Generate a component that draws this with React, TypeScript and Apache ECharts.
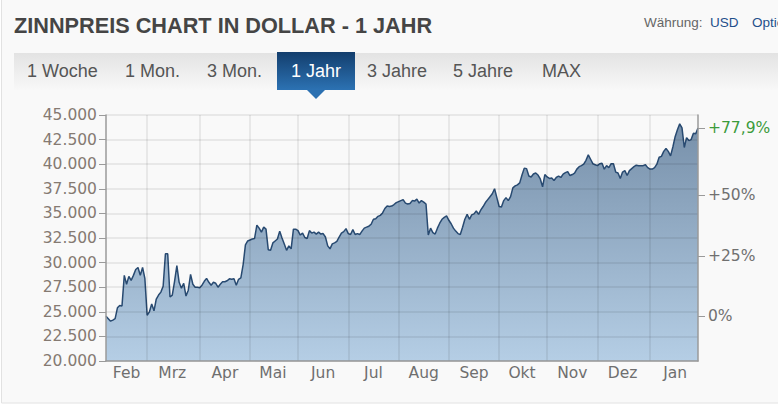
import { useEffect, useRef } from 'react'
import * as echarts from 'echarts'

// month names on the x axis, one array of daily closes (weekdays) per month
const months = ['Feb', 'Mrz', 'Apr', 'Mai', 'Jun', 'Jul', 'Aug', 'Sep', 'Okt', 'Nov', 'Dez', 'Jan']

const feb = [24550, 24300, 24050, 24150, 24300, 25400, 25650, 25600, 28700, 27800, 28600, 28200, 28700, 29300, 29500, 28700, 29500, 28400]
const mrz = [24650, 25000, 25800, 25100, 26300, 26700, 27000, 27600, 30900, 30900, 26500, 26700, 28100, 29700, 28000, 27400, 27900, 26600, 27200, 28800, 27800, 27500, 27500]
const apr = [27450, 27700, 28100, 28400, 28000, 27700, 28000, 27900, 27500, 27800, 28050, 28050, 28150, 28350, 28300, 28350, 27700, 28300, 28450, 29800, 31800, 32200]
const mai = [32300, 32400, 32450, 33800, 33500, 33100, 33600, 33400, 31300, 31250, 32000, 32200, 32400, 33200, 32500, 31900, 31250, 31700, 31400, 33400, 33400]
const jun = [33250, 32800, 33000, 32550, 32450, 33250, 33000, 33100, 32900, 33100, 32900, 32950, 32600, 31700, 31400, 31900, 32000, 32150, 32600, 33000, 33150, 33450]
const jul = [32950, 32850, 33350, 32850, 32950, 32850, 33200, 33500, 33600, 33700, 33900, 34400, 34450, 34700, 34800, 35050, 35500, 35750, 35700, 35750, 35900, 36100]
const aug = [36200, 36300, 36400, 36050, 35950, 36000, 36300, 36250, 36450, 36050, 36300, 36150, 35950, 32800, 33500, 33050, 32900, 33500, 34000, 34400, 34600, 34750]
const sep = [34300, 33950, 33500, 33200, 32950, 32850, 33600, 34400, 34900, 34400, 34850, 34950, 35250, 34900, 35350, 35700, 36100, 36400, 36700, 37000, 37500, 36600]
const okt = [35700, 35650, 36300, 36600, 36300, 36700, 37600, 37800, 37900, 38100, 38900, 39600, 39550, 38800, 38700, 39000, 39100, 38900, 38500, 37700, 38950]
const nov = [38700, 38550, 38600, 38350, 38650, 38800, 38650, 39000, 39150, 39250, 38850, 38950, 39100, 39500, 39750, 39850, 40000, 40400, 40950, 40500, 40050, 39950]
const dez = [39850, 40050, 40100, 39500, 39850, 39650, 40050, 40050, 39200, 39100, 38550, 39200, 39350, 38850, 39350, 39550, 39750, 39900, 39850, 39850, 39850, 39950, 39650]
const jan = [39500, 39500, 39650, 40000, 40700, 40800, 41300, 41600, 41300, 40850, 41750, 42800, 43500, 44100, 43700, 41700, 42700, 42400, 42500, 43150, 43100, 43670]

const monthData = [feb, mrz, apr, mai, jun, jul, aug, sep, okt, nov, dez, jan]

const priceMin = 20000
const priceMax = 45000
const priceStep = 2500
const pctTicks = [0, 25, 50]

const tabs = ['1 Woche', '1 Mon.', '3 Mon.', '1 Jahr', '3 Jahre', '5 Jahre', 'MAX']
const activeTab = '1 Jahr'
const tabX = [27, 125, 207, 291, 367, 453, 542]

const axisFont = '"DejaVu Sans", Verdana, sans-serif'
const uiFont = '"Liberation Sans", Arial, sans-serif'

const categories: string[] = []
const prices: number[] = []
const monthStart: number[] = []
const monthMid: number[] = []
monthData.forEach((arr, m) => {
  monthStart.push(categories.length)
  monthMid.push(categories.length + Math.floor(arr.length / 2))
  arr.forEach((v, i) => {
    categories.push(`${months[m]} ${i + 1}`)
    prices.push(v)
  })
})

const base = prices[0]
const pctLast = (prices[prices.length - 1] / base - 1) * 100
const pctMin = (priceMin / base - 1) * 100
const pctMax = (priceMax / base - 1) * 100

const fmtThousands = (v: number) => String(v).replace(/\B(?=(\d{3})+(?!\d))/g, '.')

export default function App() {
  const chartRef = useRef<HTMLDivElement>(null)

  useEffect(() => {
    if (!chartRef.current) return
    const chart = echarts.init(chartRef.current, undefined, { renderer: 'svg' })

    const tabGraphics: any[] = tabs.map((t, i) => ({
      type: 'text',
      x: tabX[i],
      y: 71,
      style: {
        text: t,
        fill: t === activeTab ? '#ffffff' : '#555555',
        font: `18px ${uiFont}`,
        verticalAlign: 'middle',
      },
    }))

    chart.setOption({
      animation: false,
      graphic: [
        {
          type: 'rect',
          z: -100,
          shape: { x: 1.5, y: -2, width: 800, height: 405 },
          style: { fill: '#f9f9f9', stroke: '#e2e2e2', lineWidth: 1 },
        },
        {
          type: 'rect',
          z: -90,
          shape: { x: 14, y: 53, width: 780, height: 37 },
          style: {
            fill: new echarts.graphic.LinearGradient(0, 0, 0, 1, [
              { offset: 0, color: '#e3e3e3' },
              { offset: 1, color: '#f8f8f8' },
            ]),
          },
        },
        {
          type: 'rect',
          z: -80,
          shape: { x: 277, y: 52, width: 78, height: 38 },
          style: {
            fill: new echarts.graphic.LinearGradient(0, 0, 0, 1, [
              { offset: 0, color: '#133e6d' },
              { offset: 1, color: '#2c72b3' },
            ]),
          },
        },
        {
          type: 'polygon',
          z: -80,
          shape: { points: [[307, 90], [325, 90], [316, 99]] },
          style: { fill: '#2b70b1' },
        },
        {
          type: 'text',
          x: 14,
          y: 25,
          style: {
            text: 'ZINNPREIS CHART IN DOLLAR - 1 JAHR',
            fill: '#454545',
            font: `bold 21.7px ${uiFont}`,
            verticalAlign: 'middle',
          },
        },
        {
          type: 'text',
          x: 644,
          y: 22,
          style: { text: 'Währung:', fill: '#666666', font: `13.5px ${uiFont}`, verticalAlign: 'middle' },
        },
        {
          type: 'text',
          x: 710,
          y: 22,
          style: { text: 'USD', fill: '#1f4f8b', font: `13.5px ${uiFont}`, verticalAlign: 'middle' },
        },
        {
          type: 'text',
          x: 752,
          y: 22,
          style: { text: 'Optionen', fill: '#1f4f8b', font: `13.5px ${uiFont}`, verticalAlign: 'middle' },
        },
        ...tabGraphics,
      ],
      grid: { left: 106, top: 115, width: 592, height: 246, containLabel: false },
      xAxis: {
        type: 'category',
        boundaryGap: false,
        data: categories,
        axisLine: { show: true, onZero: false, lineStyle: { color: '#9a9a9a', width: 1.5 } },
        axisTick: { show: false },
        axisLabel: {
          interval: (index: number) => monthMid.includes(index),
          formatter: (value: string) => value.split(' ')[0],
          color: '#6f6f6f',
          fontFamily: axisFont,
          fontSize: 15.5,
          margin: 4,
        },
        splitLine: {
          show: true,
          interval: (index: number) => index > 0 && monthStart.includes(index),
          lineStyle: { color: 'rgba(0,0,0,0.09)', width: 1.5 },
        },
      },
      yAxis: [
        {
          type: 'value',
          min: priceMin,
          max: priceMax,
          interval: priceStep,
          axisLine: { show: true, lineStyle: { color: '#9a9a9a', width: 1.5 } },
          axisTick: { show: true, length: 7, lineStyle: { color: '#9a9a9a' } },
          axisLabel: {
            formatter: (v: number) => fmtThousands(v),
            color: '#857a72',
            fontFamily: axisFont,
            fontSize: 15.5,
            margin: 9,
          },
          splitLine: { show: true, lineStyle: { color: 'rgba(0,0,0,0.09)', width: 1.5 } },
        },
        {
          type: 'value',
          position: 'right',
          min: pctMin,
          max: pctMax,
          axisLine: { show: true, onZero: false, lineStyle: { color: '#9a9a9a', width: 1.5 } },
          axisTick: {
            show: true,
            length: 7,
            customValues: [...pctTicks, pctLast],
            lineStyle: { color: '#9a9a9a' },
          },
          axisLabel: {
            customValues: [...pctTicks, pctLast],
            formatter: (v: number) => {
              if (Math.abs(v - pctLast) < 1e-6) return `{up|+${pctLast.toFixed(1).replace('.', ',')}%}`
              return v === 0 ? '0%' : `+${v}%`
            },
            rich: { up: { color: '#3c9b3c', fontFamily: axisFont, fontSize: 15.5 } },
            color: '#707070',
            fontFamily: axisFont,
            fontSize: 15.5,
            margin: 10,
          },
          splitLine: { show: false },
        },
      ],
      series: [
        {
          type: 'line',
          z: -1,
          data: prices,
          showSymbol: false,
          lineStyle: { color: '#284a71', width: 1.5 },
          areaStyle: {
            color: {
              type: 'linear',
              x: 0,
              y: 0,
              x2: 0,
              y2: 1,
              colorStops: [
                { offset: 0, color: '#7790aa' },
                { offset: 1, color: '#b5cee5' },
              ],
            },
            opacity: 1,
          },
        },
      ],
    })

    return () => {
      chart.dispose()
    }
  }, [])

  return (
    <div
      ref={chartRef}
      style={{ position: 'absolute', left: 0, top: 0, width: '778px', height: '418px', background: '#ffffff' }}
    ></div>
  )
}
